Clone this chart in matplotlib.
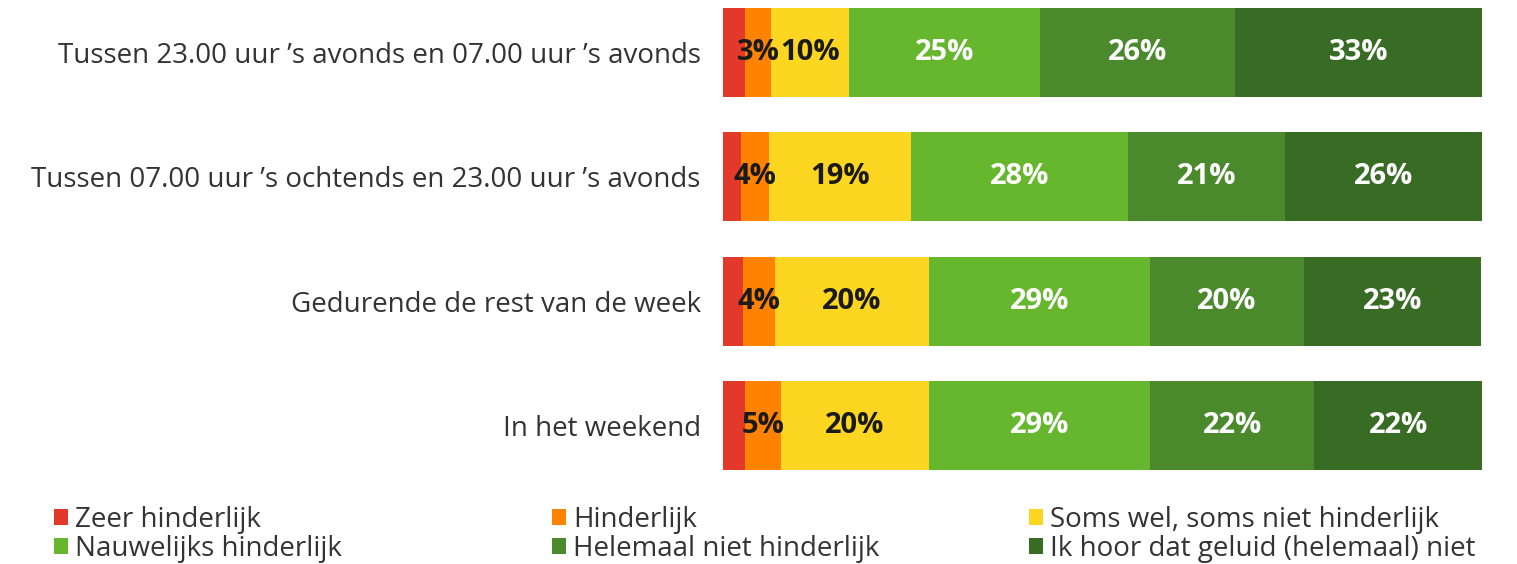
import matplotlib.pyplot as plt
from matplotlib.patches import Patch

plt.rcParams['font.family'] = ['Open Sans', 'DejaVu Sans']

# ── Data ────────────────────────────────────────────────────────────────────
categories = [
    "Tussen 23.00 uur ’s avonds en 07.00 uur ’s avonds",
    "Tussen 07.00 uur ’s ochtends en 23.00 uur ’s avonds",
    "Gedurende de rest van de week",
    "In het weekend",
]
answers = [
    "Zeer hinderlijk", "Hinderlijk", "Soms wel, soms niet hinderlijk",
    "Nauwelijks hinderlijk", "Helemaal niet hinderlijk",
    "Ik hoor dat geluid (helemaal) niet",
]
zeer_hinderlijk = [2.9, 2.4, 2.6, 2.9]
hinderlijk      = [3.4, 3.7, 4.2, 4.7]
soms            = [10.3, 18.7, 20.3, 19.5]
nauwelijks      = [25.2, 28.5, 29.2, 29.2]
helemaal_niet   = [25.7, 20.8, 20.2, 21.6]
hoor_niet       = [32.6, 25.9, 23.4, 22.1]
series = [zeer_hinderlijk, hinderlijk, soms, nauwelijks, helemaal_niet, hoor_niet]

colors = ['#E3392A', '#FF8300', '#FCD621', '#67B72E', '#4A8A2D', '#386B24']
label_colors = [None, '#1a1a1a', '#1a1a1a', 'white', 'white', 'white']

# ── Figure ──────────────────────────────────────────────────────────────────
fig = plt.figure(figsize=(15.17, 5.64), dpi=100)
ax = fig.add_axes([723 / 1517, 1 - 470 / 564, 759 / 1517, 462 / 564])

y = list(range(len(categories)))
left = [0.0] * len(categories)
for vals, col, lcol in zip(series, colors, label_colors):
    bars = ax.barh(y, vals, left=left, height=0.715, color=col, edgecolor='none')
    if lcol is not None:
        ax.bar_label(bars, labels=[f"{round(v)}%" for v in vals], label_type='center',
                     color=lcol, fontsize=21, fontweight='bold')
    left = [l + v for l, v in zip(left, vals)]

ax.set_xlim(0, 100)
ax.set_ylim(3.357, -0.357)
ax.set_yticks(y)
ax.set_yticklabels(categories, fontsize=20, color='#333333')
ax.tick_params(axis='y', length=0, pad=16)
ax.set_xticks([])
for s in ax.spines.values():
    s.set_visible(False)

# ── Legend: three columns, two rows ─────────────────────────────────────────
handles = [Patch(facecolor=c, edgecolor='none') for c in colors]
col_x = [54 / 1517, 552 / 1517, 1029 / 1517]
for i, x0 in enumerate(col_x):
    fig.legend([handles[i], handles[i + 3]], [answers[i], answers[i + 3]],
               loc='upper left', bbox_to_anchor=(x0, 1 - 506 / 564),
               frameon=False, fontsize=20, handlelength=0.5, handleheight=0.5,
               handletextpad=0.25, labelspacing=0.02, borderaxespad=0,
               borderpad=0.0, labelcolor='#333333')

fig.savefig('out.png', dpi=100)
